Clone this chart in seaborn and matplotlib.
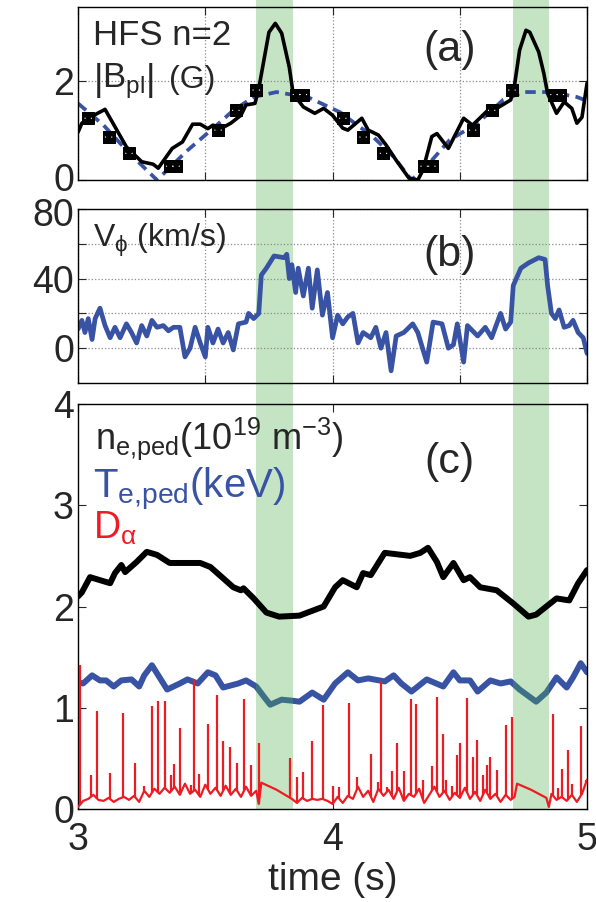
import numpy as np
import matplotlib
matplotlib.use("Agg")
import matplotlib.pyplot as plt
import matplotlib.transforms as mtransforms
import seaborn as sns

# shaded intervals (s), shared by all panels
band_start = [3.70, 4.71]
band_end = [3.845, 4.85]

# (a) HFS n=2 |B_pl| (G)
bpl_t = [3.0, 3.015, 3.04, 3.106, 3.19, 3.25, 3.295, 3.315, 3.37, 3.41, 3.45, 3.48,
         3.51, 3.53, 3.565, 3.60, 3.64, 3.66, 3.695, 3.71, 3.75, 3.775, 3.80, 3.83,
         3.845, 3.885, 3.93, 3.965, 4.0, 4.04, 4.06, 4.115, 4.14, 4.18, 4.21, 4.25,
         4.30, 4.335, 4.355, 4.39, 4.41, 4.455, 4.515, 4.55, 4.57, 4.61, 4.645, 4.70,
         4.715, 4.735, 4.76, 4.775, 4.81, 4.83, 4.845, 4.88, 4.91, 4.94, 4.96, 4.98, 5.0]
bpl_v = [0.97, 1.15, 1.25, 1.43, 0.67, 0.37, 0.32, 0.24, 0.64, 0.77, 1.13, 1.13,
         1.04, 1.11, 1.05, 1.15, 1.31, 1.52, 1.55, 1.85, 2.99, 3.17, 2.97, 2.28,
         1.75, 1.48, 1.35, 1.45, 1.31, 1.05, 1.01, 1.25, 1.01, 0.91, 0.71, 0.40,
         0.04, 0.0, 0.20, 0.88, 0.94, 0.64, 1.25, 1.11, 1.21, 1.41, 1.45, 1.62,
         1.92, 2.63, 3.03, 2.99, 2.59, 2.16, 1.75, 1.35, 1.58, 1.45, 1.15, 1.27, 1.96]
fit_t = [3.0, 3.10, 3.20, 3.31, 3.43, 3.545, 3.61, 3.69, 3.78, 3.87, 3.91, 4.03,
         4.16, 4.24, 4.31, 4.38, 4.46, 4.57, 4.67, 4.75, 4.855, 4.96, 5.0]
fit_v = [1.55, 1.11, 0.55, 0.0, 0.60, 1.11, 1.41, 1.68, 1.78, 1.70, 1.66, 1.37,
         0.87, 0.47, 0.0, 0.34, 0.81, 1.15, 1.62, 1.78, 1.78, 1.68, 1.60]
mark_t = [3.04, 3.12, 3.20, 3.36, 3.385, 3.55, 3.62, 3.70, 3.858, 3.885,
          4.04, 4.12, 4.20, 4.36, 4.39, 4.55, 4.625, 4.705, 4.87, 4.895]
mark_v = [1.25, 0.87, 0.54, 0.28, 0.28, 1.01, 1.41, 1.82, 1.73, 1.73,
          1.25, 0.87, 0.54, 0.28, 0.28, 1.01, 1.41, 1.82, 1.73, 1.73]

# (b) V_phi (km/s)
vphi_t = [3.0, 3.015, 3.027, 3.04, 3.055, 3.067, 3.086, 3.106, 3.126, 3.145, 3.165,
          3.19, 3.21, 3.23, 3.25, 3.27, 3.29, 3.31, 3.335, 3.355, 3.375, 3.40, 3.42,
          3.44, 3.46, 3.48, 3.50, 3.51, 3.53, 3.55, 3.57, 3.59, 3.61, 3.63, 3.66,
          3.67, 3.69, 3.71, 3.72, 3.74, 3.77, 3.81, 3.82, 3.83, 3.84, 3.855, 3.865,
          3.885, 3.905, 3.92, 3.94, 3.96, 3.98, 4.0, 4.02, 4.04, 4.06, 4.08, 4.10,
          4.12, 4.15, 4.17, 4.19, 4.21, 4.23, 4.25, 4.28, 4.315, 4.335, 4.37, 4.395,
          4.43, 4.455, 4.475, 4.49, 4.515, 4.53, 4.57, 4.60, 4.625, 4.66, 4.68, 4.70,
          4.71, 4.74, 4.77, 4.81, 4.835, 4.845, 4.86, 4.875, 4.89, 4.91, 4.93, 4.945,
          4.965, 4.985, 5.0]
vphi_v = [11, 16, 9, 17, 5, 17, 23, 13, 6, 12, 6,
          14, 9, 3, 13, 7, 16, 12, 13, 10, 12, 12, -5,
          0, 12, 3, -5, 12, 3, 11, 3, 9, -1, 14, 15,
          20, 17, 20, 42, 46, 53, 52, 54, 40, 48, 32, 46,
          30, 46, 23, 45, 19, 32, 6, 19, 14, 18, 20, 3,
          9, 6, 12, 0, 9, -13, 7, 9, 14, 9, -8, 15,
          14, 0, 2, 14, -8, 13, 7, 12, 6, 20, 11, 15,
          36, 46, 49, 52, 51, 36, 20, 17, 22, 12, 13, 16,
          9, 6, -3]

# (c) n_e,ped (10^19 m^-3)
ne_t = [3.0, 3.015, 3.047, 3.06, 3.126, 3.145, 3.17, 3.185, 3.23, 3.27, 3.31, 3.36,
        3.48, 3.52, 3.61, 3.64, 3.65, 3.69, 3.74, 3.79, 3.87, 3.965, 4.01, 4.04,
        4.095, 4.12, 4.15, 4.205, 4.305, 4.345, 4.375, 4.41, 4.435, 4.475, 4.515,
        4.54, 4.58, 4.645, 4.71, 4.77, 4.80, 4.88, 4.93, 4.965, 5.0]
ne_v = [2.10, 2.14, 2.29, 2.28, 2.23, 2.33, 2.41, 2.34, 2.44, 2.54, 2.51, 2.43,
        2.43, 2.39, 2.19, 2.16, 2.18, 2.08, 1.94, 1.90, 1.91, 2.00, 2.19, 2.26,
        2.19, 2.33, 2.31, 2.53, 2.50, 2.53, 2.58, 2.44, 2.29, 2.43, 2.26,
        2.29, 2.19, 2.16, 2.03, 1.90, 1.92, 2.08, 2.06, 2.23, 2.36]

# (c) T_e,ped (keV)
te_t = [3.0, 3.02, 3.055, 3.086, 3.11, 3.14, 3.17, 3.21, 3.24, 3.26, 3.29, 3.315,
        3.35, 3.40, 3.43, 3.47, 3.51, 3.54, 3.57, 3.63, 3.66, 3.70, 3.73, 3.755,
        3.80, 3.84, 3.87, 3.92, 3.965, 4.01, 4.06, 4.10, 4.14, 4.205, 4.24, 4.27,
        4.31, 4.37, 4.435, 4.475, 4.50, 4.54, 4.57, 4.62, 4.66, 4.70, 4.735, 4.80,
        4.84, 4.88, 4.92, 4.945, 4.975, 5.0]
te_v = [1.25, 1.24, 1.32, 1.27, 1.27, 1.21, 1.27, 1.28, 1.21, 1.32, 1.42, 1.32,
        1.18, 1.24, 1.28, 1.24, 1.35, 1.32, 1.20, 1.24, 1.27, 1.21, 1.11, 1.03,
        1.08, 1.07, 1.06, 1.15, 1.08, 1.24, 1.35, 1.27, 1.29, 1.26, 1.32, 1.24,
        1.16, 1.28, 1.21, 1.35, 1.27, 1.27, 1.16, 1.27, 1.24, 1.26, 1.18, 1.06,
        1.15, 1.30, 1.20, 1.30, 1.44, 1.35]

# (c) D_alpha: noisy baseline plus ELM spikes
da_t = [3.0, 3.02, 3.04, 3.06, 3.08, 3.10, 3.12, 3.14, 3.16, 3.18, 3.20, 3.22,
        3.24, 3.26, 3.28, 3.30, 3.32, 3.34, 3.36, 3.38, 3.40, 3.42, 3.44, 3.46,
        3.48, 3.50, 3.52, 3.54, 3.56, 3.58, 3.60, 3.62, 3.64, 3.66, 3.68, 3.70,
        3.71, 3.72, 3.78, 3.84, 3.86, 3.88, 3.90, 3.92, 3.94, 3.96, 3.98, 4.00,
        4.02, 4.04, 4.06, 4.08, 4.10, 4.12, 4.14, 4.16, 4.18, 4.20, 4.22, 4.24,
        4.26, 4.28, 4.30, 4.32, 4.34, 4.36, 4.38, 4.40, 4.42, 4.44, 4.46, 4.48,
        4.50, 4.52, 4.54, 4.56, 4.58, 4.60, 4.62, 4.64, 4.66, 4.68, 4.70, 4.715,
        4.725, 4.78, 4.84, 4.85, 4.86, 4.88, 4.90, 4.92, 4.94, 4.96, 4.98, 5.0]
da_v = [0.02, 0.08, 0.10, 0.14, 0.09, 0.08, 0.11, 0.07, 0.10, 0.12, 0.09, 0.13,
        0.07, 0.18, 0.12, 0.20, 0.15, 0.21, 0.16, 0.22, 0.14, 0.25, 0.15, 0.19,
        0.12, 0.24, 0.15, 0.21, 0.13, 0.23, 0.14, 0.20, 0.12, 0.22, 0.13, 0.18,
        0.05, 0.26, 0.19, 0.10, 0.06, 0.11, 0.08, 0.10, 0.09, 0.10, 0.08, 0.05,
        0.12, 0.06, 0.13, 0.10, 0.22, 0.12, 0.18, 0.07, 0.20, 0.13, 0.19, 0.10,
        0.21, 0.08, 0.15, 0.12, 0.20, 0.06, 0.14, 0.22, 0.12, 0.18, 0.09, 0.16,
        0.11, 0.21, 0.10, 0.17, 0.08, 0.19, 0.10, 0.15, 0.07, 0.14, 0.09, 0.12,
        0.25, 0.19, 0.11, 0.02, 0.15, 0.09, 0.12, 0.08, 0.14, 0.07, 0.15, 0.29]
spike_t = [3.008, 3.05, 3.073, 3.125, 3.178, 3.225, 3.26, 3.29, 3.315, 3.34, 3.365,
           3.377, 3.40, 3.445, 3.456, 3.475, 3.51, 3.547, 3.57, 3.597, 3.626, 3.653,
           3.68, 3.71, 3.833, 3.86, 3.885, 3.92, 3.962, 4.0, 4.025, 4.066, 4.097,
           4.15, 4.178, 4.19, 4.215, 4.235, 4.255, 4.28, 4.31, 4.328, 4.355, 4.39,
           4.41, 4.434, 4.445, 4.47, 4.49, 4.50, 4.53, 4.55, 4.567, 4.59, 4.605,
           4.62, 4.645, 4.68, 4.705, 4.866, 4.885, 4.90, 4.925, 4.94, 4.976, 4.996]
spike_v = [1.42, 0.34, 0.97, 0.36, 0.95, 0.45, 0.23, 1.02, 1.07, 1.07, 0.34,
           0.44, 0.80, 0.24, 1.27, 0.35, 0.84, 1.13, 0.67, 0.61, 0.45, 1.09,
           0.43, 0.65, 0.50, 0.32, 0.37, 0.67, 1.03, 0.23, 0.22, 1.05, 0.32,
           0.54, 0.27, 1.26, 0.22, 0.38, 0.65, 0.38, 1.09, 1.04, 0.29, 0.42,
           1.11, 0.74, 0.29, 0.23, 0.53, 0.65, 1.10, 0.51, 0.68, 0.34, 0.43,
           0.51, 0.39, 0.83, 0.91, 0.94, 0.21, 0.40, 0.58, 0.25, 0.82, 0.29]

BLUE = "#3953a4"
RED = "#ed1c24"
GREEN = "#4daf4a"
BAND_ALPHA = 0.33
TICK_SIZE = 27

sns.set_style("ticks")
plt.rcParams["font.family"] = ["Liberation Sans", "DejaVu Sans"]
plt.rcParams["mathtext.fontset"] = "custom"
plt.rcParams["mathtext.rm"] = "Liberation Sans"
plt.rcParams["mathtext.it"] = "Liberation Sans:italic"
plt.rcParams["mathtext.default"] = "regular"

fig = plt.figure(figsize=(5.96, 9.02), dpi=100)
L, W = 0.131, 0.854
C_BOTTOM, C_HEIGHT = 0.1031, 0.4490

# bands behind panels (a) and (b) and the gaps between them
ax_band = fig.add_axes([L, C_BOTTOM + C_HEIGHT, W, 1 - C_BOTTOM - C_HEIGHT], zorder=-1)
ax_band.set_xlim(3, 5)
ax_band.set_ylim(0, 1)
ax_band.axis("off")
for s, e in zip(band_start, band_end):
    ax_band.axvspan(s, e, color=GREEN, alpha=BAND_ALPHA, lw=0)

ax_a = fig.add_axes([L, 0.8004, W, 0.1918])
ax_b = fig.add_axes([L, 0.5754, W, 0.1929])
ax_c = fig.add_axes([L, C_BOTTOM, W, C_HEIGHT])
ax_a.patch.set_alpha(0)
ax_b.patch.set_alpha(0)


def style(ax):
    ax.set_xlim(3, 5)
    ax.tick_params(direction="in", length=6, width=0.8, labelsize=TICK_SIZE,
                   top=True, right=True, pad=3)
    ax.tick_params(axis="x", pad=9)
    for sp in ax.spines.values():
        sp.set_linewidth(1.0)
        sp.set_color("black")
    ax.set_xlabel("")
    ax.set_ylabel("")
    ax.set_axisbelow(True)


def nudge_ytick(ax, idx, dy_pt):
    # shift one y tick label vertically by dy_pt points
    lab = ax.get_yticklabels()[idx]
    lab.set_transform(lab.get_transform() +
                      mtransforms.ScaledTranslation(0, dy_pt / 72, fig.dpi_scale_trans))


# panel (a)
sns.lineplot(x=fit_t, y=fit_v, ax=ax_a, color=BLUE, lw=2.7)
ax_a.lines[-1].set_dashes((2.8, 1.7))
sns.lineplot(x=bpl_t, y=bpl_v, ax=ax_a, color="black", lw=2.6)
sns.scatterplot(x=mark_t, y=mark_v, ax=ax_a, marker="s", s=80, color="black",
                edgecolor="black", zorder=5)
sns.scatterplot(x=mark_t, y=mark_v, ax=ax_a, marker=r"$\cdot\,\cdot$", s=30,
                color="white", edgecolor="none", zorder=6)
style(ax_a)
ax_a.set_ylim(0, 3.5)
ax_a.set_yticks([0, 2])
ax_a.set_xticks([3, 3.5, 4, 4.5, 5])
ax_a.set_xticklabels([])
ax_a.grid(True, ls=":", color="0.55", lw=0.9)
nudge_ytick(ax_a, 0, 2)

# panel (b)
sns.lineplot(x=vphi_t, y=vphi_v, ax=ax_b, color=BLUE, lw=3.4)
style(ax_b)
ax_b.set_ylim(-20, 80)
ax_b.set_yticks([0, 20, 40, 60, 80])
ax_b.set_yticklabels(["0", "", "40", "", "80"])
ax_b.set_xticks([3, 3.5, 4, 4.5, 5])
ax_b.set_xticklabels([])
ax_b.grid(True, ls=":", color="0.55", lw=0.9)
nudge_ytick(ax_b, 4, -2)

# panel (c): blue trace sits under the band, black and red on top
sns.lineplot(x=te_t, y=te_v, ax=ax_c, color=BLUE, lw=4.3, zorder=2)
for s, e in zip(band_start, band_end):
    ax_c.axvspan(s, e, color=GREEN, alpha=BAND_ALPHA, lw=0, zorder=2.5)
sns.lineplot(x=ne_t, y=ne_v, ax=ax_c, color="black", lw=4.3, zorder=3)
sns.lineplot(x=da_t, y=da_v, ax=ax_c, color=RED, lw=1.6, zorder=3)
ax_c.vlines(spike_t, np.interp(spike_t, da_t, da_v), spike_v, color=RED, lw=1.6,
            zorder=3)
style(ax_c)
ax_c.set_ylim(0, 4)
ax_c.set_yticks([0, 1, 2, 3, 4])
ax_c.set_xticks([3, 4, 5])
ax_c.set_xlabel("time (s)", fontsize=28, labelpad=3)


# labels (figure-level so they sit above the bands)
def label(ax, x, y, s, **kw):
    fig.text(x, y, s, transform=ax.transAxes, **kw)


label(ax_a, 0.03, 0.78, "HFS n=2", fontsize=25)
label(ax_a, 0.03, 0.53, r"$\left|B_{pl}\right|$", fontsize=25)
label(ax_a, 0.178, 0.53, "(G)", fontsize=23)
label(ax_a, 0.73, 0.75, "(a)", fontsize=31, ha="center", va="center")
label(ax_b, 0.03, 0.82, r"V$_\phi$ (km/s)", fontsize=23, va="center")
label(ax_b, 0.73, 0.735, "(b)", fontsize=31, ha="center", va="center")
label(ax_c, 0.033, 0.89, r"n$_{e{,}ped}$(10$^{19}$ m$^{-3}$)", fontsize=26)
label(ax_c, 0.03, 0.768, r"T$_{e{,}ped}$(keV)", fontsize=29, color=BLUE)
label(ax_c, 0.03, 0.667, r"D$_\alpha$", fontsize=27, color=RED)
label(ax_c, 0.73, 0.857, "(c)", fontsize=31, ha="center", va="center")

fig.savefig("out.png", dpi=100, facecolor="white")
